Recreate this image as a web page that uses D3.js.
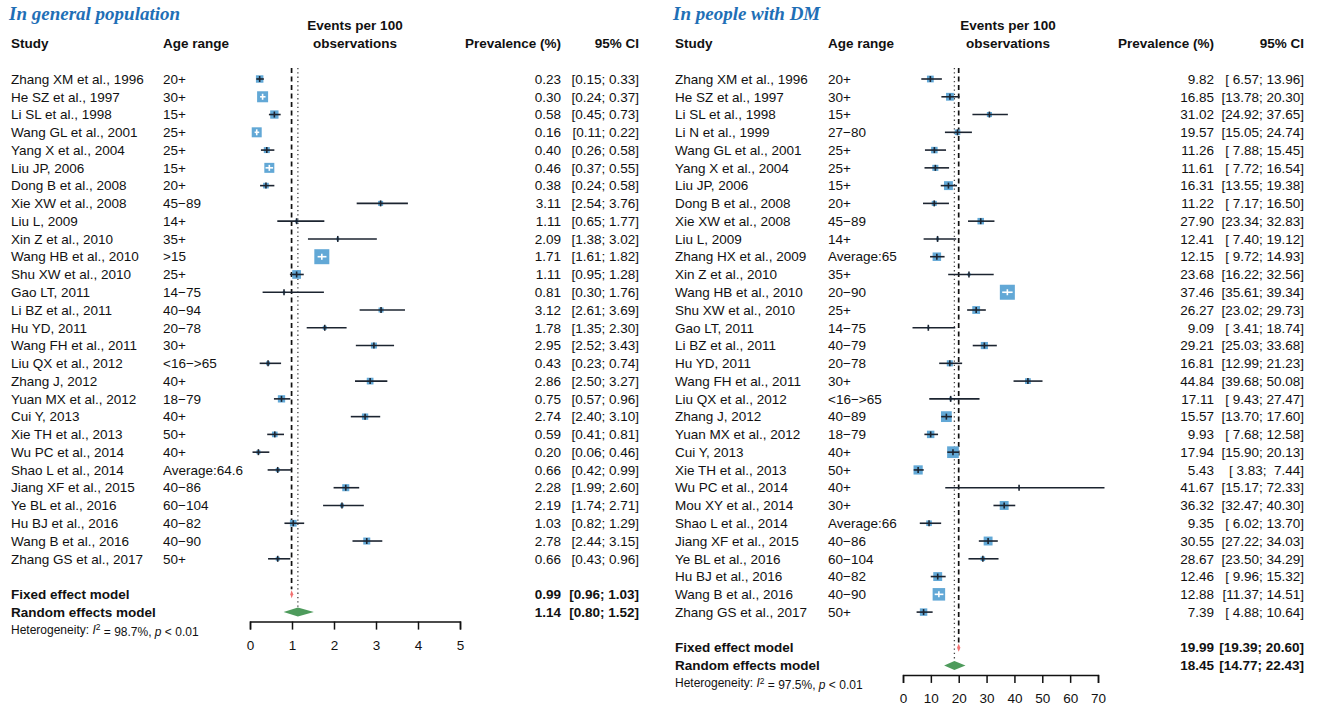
<!DOCTYPE html>
<html>
<head>
<meta charset="utf-8">
<script src="https://cdn.jsdelivr.net/npm/d3@7"></script>
<style>
  body { margin: 0; background: #fff; }
  svg text { font-family: "Liberation Sans", Arial, sans-serif; fill: #111; }
</style>
</head>
<body>
<svg id="chart" width="1322" height="709"></svg>
<script>
// ---------- General population ----------
const genStudy = [
  "Zhang XM et al., 1996", "He SZ et al., 1997", "Li SL et al., 1998", "Wang GL et al., 2001",
  "Yang X et al., 2004", "Liu JP, 2006", "Dong B et al., 2008", "Xie XW et al., 2008",
  "Liu L, 2009", "Xin Z et al., 2010", "Wang HB et al., 2010", "Shu XW et al., 2010",
  "Gao LT, 2011", "Li BZ et al., 2011", "Hu YD, 2011", "Wang FH et al., 2011",
  "Liu QX et al., 2012", "Zhang J, 2012", "Yuan MX et al., 2012", "Cui Y, 2013",
  "Xie TH et al., 2013", "Wu PC et al., 2014", "Shao L et al., 2014", "Jiang XF et al., 2015",
  "Ye BL et al., 2016", "Hu BJ et al., 2016", "Wang B et al., 2016", "Zhang GS et al., 2017"
];
const genAge = [
  "20+", "30+", "15+", "25+", "25+", "15+", "20+", "45\u221289",
  "14+", "35+", ">15", "25+", "14\u221275", "40\u221294", "20\u221278", "30+",
  "<16\u2212>65", "40+", "18\u221279", "40+", "50+", "40+", "Average:64.6", "40\u221286",
  "60\u2212104", "40\u221282", "40\u221290", "50+"
];
const genPrev = [0.23, 0.30, 0.58, 0.16, 0.40, 0.46, 0.38, 3.11, 1.11, 2.09, 1.71, 1.11, 0.81, 3.12,
  1.78, 2.95, 0.43, 2.86, 0.75, 2.74, 0.59, 0.20, 0.66, 2.28, 2.19, 1.03, 2.78, 0.66];
const genLower = [0.15, 0.24, 0.45, 0.11, 0.26, 0.37, 0.24, 2.54, 0.65, 1.38, 1.61, 0.95, 0.30, 2.61,
  1.35, 2.52, 0.23, 2.50, 0.57, 2.40, 0.41, 0.06, 0.42, 1.99, 1.74, 0.82, 2.44, 0.43];
const genUpper = [0.33, 0.37, 0.73, 0.22, 0.58, 0.55, 0.58, 3.76, 1.77, 3.02, 1.82, 1.28, 1.76, 3.69,
  2.30, 3.43, 0.74, 3.27, 0.96, 3.10, 0.81, 0.46, 0.99, 2.60, 2.71, 1.29, 3.15, 0.96];
const genWeight = [4.2, 9.1, 5.2, 7.5, 2.7, 7.5, 2.4, 1.9, 0.7, 0.7, 16.9, 5.7, 0.5, 1.9,
  1.2, 2.7, 1.2, 3.4, 4.0, 3.0, 2.4, 1.2, 1.2, 3.7, 1.2, 3.4, 3.7, 1.2];
const genSummaryLabel = ["Fixed effect model", "Random effects model"];
const genSummaryPrev = [0.99, 1.14];
const genSummaryLower = [0.96, 0.80];
const genSummaryUpper = [1.03, 1.52];
const genI2 = "98.7%";
const genTicks = [0, 1, 2, 3, 4, 5];

// ---------- People with DM ----------
const dmStudy = [
  "Zhang XM et al., 1996", "He SZ et al., 1997", "Li SL et al., 1998", "Li N et al., 1999",
  "Wang GL et al., 2001", "Yang X et al., 2004", "Liu JP, 2006", "Dong B et al., 2008",
  "Xie XW et al., 2008", "Liu L, 2009", "Zhang HX et al., 2009", "Xin Z et al., 2010",
  "Wang HB et al., 2010", "Shu XW et al., 2010", "Gao LT, 2011", "Li BZ et al., 2011",
  "Hu YD, 2011", "Wang FH et al., 2011", "Liu QX et al., 2012", "Zhang J, 2012",
  "Yuan MX et al., 2012", "Cui Y, 2013", "Xie TH et al., 2013", "Wu PC et al., 2014",
  "Mou XY et al., 2014", "Shao L et al., 2014", "Jiang XF et al., 2015", "Ye BL et al., 2016",
  "Hu BJ et al., 2016", "Wang B et al., 2016", "Zhang GS et al., 2017"
];
const dmAge = [
  "20+", "30+", "15+", "27\u221280", "25+", "25+", "15+", "20+", "45\u221289", "14+",
  "Average:65", "35+", "20\u221290", "25+", "14\u221275", "40\u221279", "20\u221278", "30+",
  "<16\u2212>65", "40\u221289", "18\u221279", "40+", "50+", "40+", "30+", "Average:66",
  "40\u221286", "60\u2212104", "40\u221282", "40\u221290", "50+"
];
const dmPrev = [9.82, 16.85, 31.02, 19.57, 11.26, 11.61, 16.31, 11.22, 27.90, 12.41, 12.15, 23.68,
  37.46, 26.27, 9.09, 29.21, 16.81, 44.84, 17.11, 15.57, 9.93, 17.94, 5.43, 41.67, 36.32, 9.35,
  30.55, 28.67, 12.46, 12.88, 7.39];
const dmLower = [6.57, 13.78, 24.92, 15.05, 7.88, 7.72, 13.55, 7.17, 23.34, 7.40, 9.72, 16.22,
  35.61, 23.02, 3.41, 25.03, 12.99, 39.68, 9.43, 13.70, 7.68, 15.90, 3.83, 15.17, 32.47, 6.02,
  27.22, 23.50, 9.96, 11.37, 4.88];
const dmUpper = [13.96, 20.30, 37.65, 24.74, 15.45, 16.54, 19.38, 16.50, 32.83, 19.12, 14.93, 32.56,
  39.34, 29.73, 18.74, 33.68, 21.23, 50.08, 27.47, 17.60, 12.58, 20.13, 7.44, 72.33, 40.30, 13.70,
  34.03, 34.29, 15.32, 14.51, 10.64];
const dmWeight = [2.5, 3.3, 1.4, 1.7, 2.3, 2.0, 4.3, 1.4, 2.3, 0.5, 3.9, 0.5, 12.2, 3.3, 0.3, 2.8,
  2.0, 1.8, 0.5, 6.3, 3.0, 7.4, 4.6, 0.2, 4.3, 1.7, 4.3, 1.1, 4.3, 8.5, 3.0];
const dmSummaryLabel = ["Fixed effect model", "Random effects model"];
const dmSummaryPrev = [19.99, 18.45];
const dmSummaryLower = [19.39, 14.77];
const dmSummaryUpper = [20.60, 22.43];
const dmI2 = "97.5%";
const dmTicks = [0, 10, 20, 30, 40, 50, 60, 70];

// ---------- shared styling ----------
const ROW0 = 79, ROWSTEP = 17.77;
const FONT = 13.5;
const SQUARE_COLOR = "#62a8d6";
const LINE_COLOR = "#1c2430";
const FIXED_COLOR = "#f27272";
const RANDOM_COLOR = "#4e9b5c";
const TITLE_COLOR = "#1f6fb6";
const MAX_SQUARE = 15;

const svg = d3.select("#chart");

function fmt(v, width) {
  return v.toFixed(2).padStart(width, " ");
}

function drawPanel(p) {
  const g = svg.append("g");
  const n = p.study.length;
  const rowY = i => ROW0 + i * ROWSTEP;
  const x = d3.scaleLinear()
    .domain([p.ticks[0], p.ticks[p.ticks.length - 1]])
    .range(p.xRange);
  const side = d3.scaleSqrt().domain([0, d3.max(p.weight)]).range([0, MAX_SQUARE]);
  const fixedY = rowY(n + 1), randomY = rowY(n + 2), hetY = rowY(n + 3);
  const ciWidth = d3.max(p.lower.concat(p.upper), v => v.toFixed(2).length);

  // panel title
  g.append("text")
    .attr("x", p.titleX).attr("y", 20)
    .style("font-family", "'Liberation Serif', 'Times New Roman', serif")
    .style("font-style", "italic").style("font-weight", "bold")
    .style("font-size", "19px").style("fill", TITLE_COLOR)
    .text(p.title);

  // column headers
  const head = g.append("g").style("font-weight", "bold").style("font-size", FONT + "px");
  head.append("text").attr("x", p.studyX).attr("y", 48).text("Study");
  head.append("text").attr("x", p.ageX).attr("y", 48).text("Age range");
  head.append("text").attr("x", p.headerCenter).attr("y", 30).attr("text-anchor", "middle").text("Events per 100");
  head.append("text").attr("x", p.headerCenter).attr("y", 48).attr("text-anchor", "middle").text("observations");
  head.append("text").attr("x", p.estRight).attr("y", 48).attr("text-anchor", "end").text("Prevalence (%)");
  head.append("text").attr("x", p.ciRight).attr("y", 48).attr("text-anchor", "end").text("95% CI");

  // reference lines at the pooled estimates
  g.append("line")
    .attr("x1", x(p.sumPrev[0])).attr("x2", x(p.sumPrev[0]))
    .attr("y1", ROW0 - 11).attr("y2", fixedY - 5)
    .attr("stroke", "#111").attr("stroke-width", 1.7).attr("stroke-dasharray", "5,3.5");
  g.append("line")
    .attr("x1", x(p.sumPrev[1])).attr("x2", x(p.sumPrev[1]))
    .attr("y1", ROW0 - 11).attr("y2", randomY - 4)
    .attr("stroke", "#444").attr("stroke-width", 1.3).attr("stroke-dasharray", "1.3,3");

  // study rows
  const rows = g.selectAll("g.row").data(d3.range(n)).join("g")
    .attr("class", "row")
    .attr("transform", i => `translate(0,${rowY(i)})`);

  rows.append("rect")
    .attr("x", i => x(p.prev[i]) - side(p.weight[i]) / 2)
    .attr("y", i => -side(p.weight[i]) / 2)
    .attr("width", i => side(p.weight[i]))
    .attr("height", i => side(p.weight[i]))
    .attr("fill", SQUARE_COLOR);

  const inside = i => {
    const h = side(p.weight[i]) / 2, c = x(p.prev[i]);
    return x(p.lower[i]) >= c - h && x(p.upper[i]) <= c + h;
  };
  rows.append("line")
    .attr("x1", i => x(p.lower[i])).attr("x2", i => x(p.upper[i]))
    .attr("y1", 0).attr("y2", 0)
    .attr("stroke", i => inside(i) ? "#fff" : LINE_COLOR)
    .attr("stroke-width", 1.6);
  rows.append("line")
    .attr("x1", i => x(p.prev[i])).attr("x2", i => x(p.prev[i]))
    .attr("y1", -3).attr("y2", 3)
    .attr("stroke", i => inside(i) ? "#fff" : LINE_COLOR)
    .attr("stroke-width", 1.6);

  const txt = rows.append("g").style("font-size", FONT + "px");
  txt.append("text").attr("x", p.studyX).attr("dy", "0.35em").text(i => p.study[i]);
  txt.append("text").attr("x", p.ageX).attr("dy", "0.35em").text(i => p.age[i]);
  txt.append("text").attr("x", p.estRight).attr("dy", "0.35em").attr("text-anchor", "end")
    .text(i => p.prev[i].toFixed(2));
  txt.append("text").attr("x", p.ciRight).attr("dy", "0.35em").attr("text-anchor", "end")
    .style("white-space", "pre")
    .text(i => `[${fmt(p.lower[i], ciWidth)}; ${fmt(p.upper[i], ciWidth)}]`);

  // pooled estimates
  const sumY = [fixedY, randomY];
  const sumColor = [FIXED_COLOR, RANDOM_COLOR];
  const sumHalfH = [4, 4.5];
  const sum = g.selectAll("g.summary").data([0, 1]).join("g")
    .attr("class", "summary")
    .attr("transform", k => `translate(0,${sumY[k]})`);
  sum.append("polygon")
    .attr("points", k => [
      [x(p.sumLower[k]), 0], [x(p.sumPrev[k]), -sumHalfH[k]],
      [x(p.sumUpper[k]), 0], [x(p.sumPrev[k]), sumHalfH[k]]
    ].join(" "))
    .attr("fill", k => sumColor[k]);
  const st = sum.append("g").style("font-size", FONT + "px").style("font-weight", "bold");
  st.append("text").attr("x", p.studyX).attr("dy", "0.35em").text(k => p.sumLabel[k]);
  st.append("text").attr("x", p.estRight).attr("dy", "0.35em").attr("text-anchor", "end")
    .text(k => p.sumPrev[k].toFixed(2));
  st.append("text").attr("x", p.ciRight).attr("dy", "0.35em").attr("text-anchor", "end")
    .style("white-space", "pre")
    .text(k => `[${p.sumLower[k].toFixed(2)}; ${p.sumUpper[k].toFixed(2)}]`);

  // heterogeneity statement
  const het = g.append("text").attr("x", p.studyX).attr("y", hetY).attr("dy", "0.35em")
    .style("font-size", "12px");
  het.append("tspan").text("Heterogeneity: ");
  het.append("tspan").style("font-style", "italic").text("I");
  het.append("tspan").attr("dy", "-0.45em").style("font-size", "8.5px").text("2");
  het.append("tspan").attr("dy", "0.45em").text(` = ${p.i2}, `);
  het.append("tspan").style("font-style", "italic").text("p");
  het.append("tspan").text(" < 0.01");

  // x axis
  const ax = g.append("g")
    .attr("transform", `translate(0,${randomY + 9.5})`)
    .call(d3.axisBottom(x).tickValues(p.ticks).tickSize(8).tickSizeOuter(8).tickPadding(11)
      .tickFormat(d3.format("d")));
  ax.selectAll("path, line").attr("stroke", "#111").attr("stroke-width", 1.5);
  ax.selectAll("text")
    .style("font-family", "'Liberation Sans', Arial, sans-serif")
    .style("font-size", FONT + "px").style("fill", "#111");
}

drawPanel({
  title: "In general population", titleX: 9,
  study: genStudy, age: genAge, prev: genPrev, lower: genLower, upper: genUpper, weight: genWeight,
  sumLabel: genSummaryLabel, sumPrev: genSummaryPrev, sumLower: genSummaryLower, sumUpper: genSummaryUpper,
  i2: genI2, ticks: genTicks,
  studyX: 11, ageX: 163, xRange: [250, 460], headerCenter: 355, estRight: 561, ciRight: 639
});

drawPanel({
  title: "In people with DM", titleX: 673,
  study: dmStudy, age: dmAge, prev: dmPrev, lower: dmLower, upper: dmUpper, weight: dmWeight,
  sumLabel: dmSummaryLabel, sumPrev: dmSummaryPrev, sumLower: dmSummaryLower, sumUpper: dmSummaryUpper,
  i2: dmI2, ticks: dmTicks,
  studyX: 675, ageX: 828, xRange: [903, 1098], headerCenter: 1008, estRight: 1214, ciRight: 1304
});
</script>
</body>
</html>
